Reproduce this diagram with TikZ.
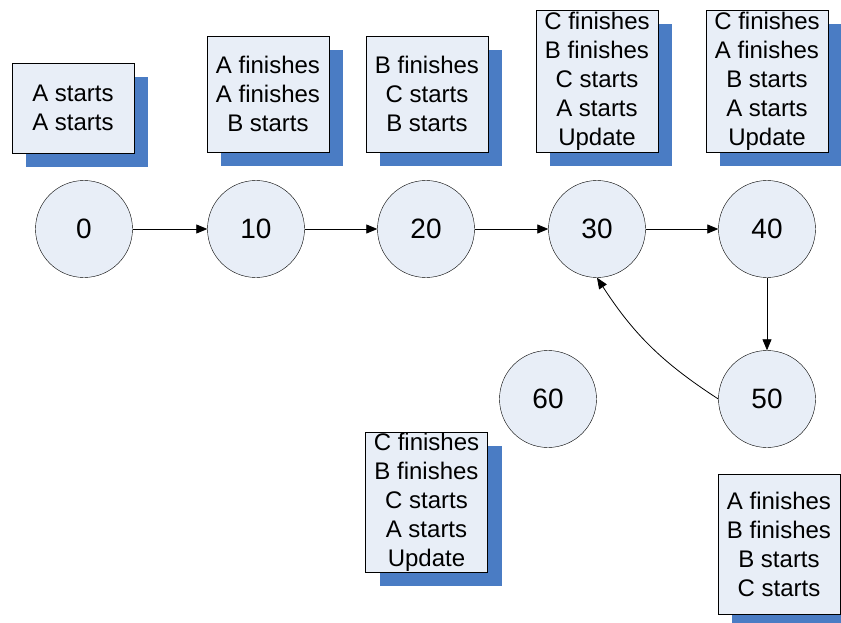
\documentclass[tikz,border=0pt]{standalone}
\usepackage{fontspec}
\setmainfont{Liberation Sans}
\usetikzlibrary{arrows.meta,shadows}

\definecolor{statefill}{RGB}{232,238,247}
\definecolor{shadowblue}{RGB}{74,124,196}

\tikzset{
  state/.style={circle,draw,fill=statefill,minimum size=97pt,inner sep=0pt,
    font=\fontsize{28}{32}\selectfont},
  events/.style={draw,fill=statefill,minimum width=122pt,inner sep=0pt,align=center,
    font=\fontsize{24}{29}\selectfont,
    general shadow={fill=shadowblue,shadow xshift=14pt,shadow yshift=-14pt}},
  trans/.style={draw,line width=0.8pt,-{Triangle[length=11pt,width=9pt]}}
}

\begin{document}
\begin{tikzpicture}[x=1pt,y=-1pt]
        \useasboundingbox (0,0) rectangle (841,623);

        % event boxes
        \node[events,minimum height=90pt]  (e0)  at (73,108)    {A starts\\A starts};
        \node[events,minimum height=116pt] (e10) at (268,94)    {A finishes\\A finishes\\B starts};
        \node[events,minimum height=116pt] (e20) at (427,94)    {B finishes\\C starts\\B starts};
        \node[events,minimum height=142pt] (e30) at (597,81)    {C finishes\\B finishes\\C starts\\A starts\\Update};
        \node[events,minimum height=142pt] (e40) at (767,81)    {C finishes\\A finishes\\B starts\\A starts\\Update};
        \node[events,minimum height=140pt] (e60) at (426.5,502) {C finishes\\B finishes\\C starts\\A starts\\Update};
        \node[events,minimum height=140pt] (e50) at (779,544)   {A finishes\\B finishes\\B starts\\C starts};

        % states
        \node[state] (s0)  at (84,229)  {0};
        \node[state] (s10) at (256,229) {10};
        \node[state] (s20) at (426,229) {20};
        \node[state] (s30) at (597,229) {30};
        \node[state] (s40) at (767,229) {40};
        \node[state] (s50) at (767,399) {50};
        \node[state] (s60) at (548,399) {60};

        \path (s0)  edge[trans] (s10);
        \path (s10) edge[trans] (s20);
        \path (s20) edge[trans] (s30);
        \path (s30) edge[trans] (s40);
        \path (s40) edge[trans] (s50);
        \path (s50.west) edge[trans,bend left=12] (s30.south);

      \end{tikzpicture}
\end{document}
